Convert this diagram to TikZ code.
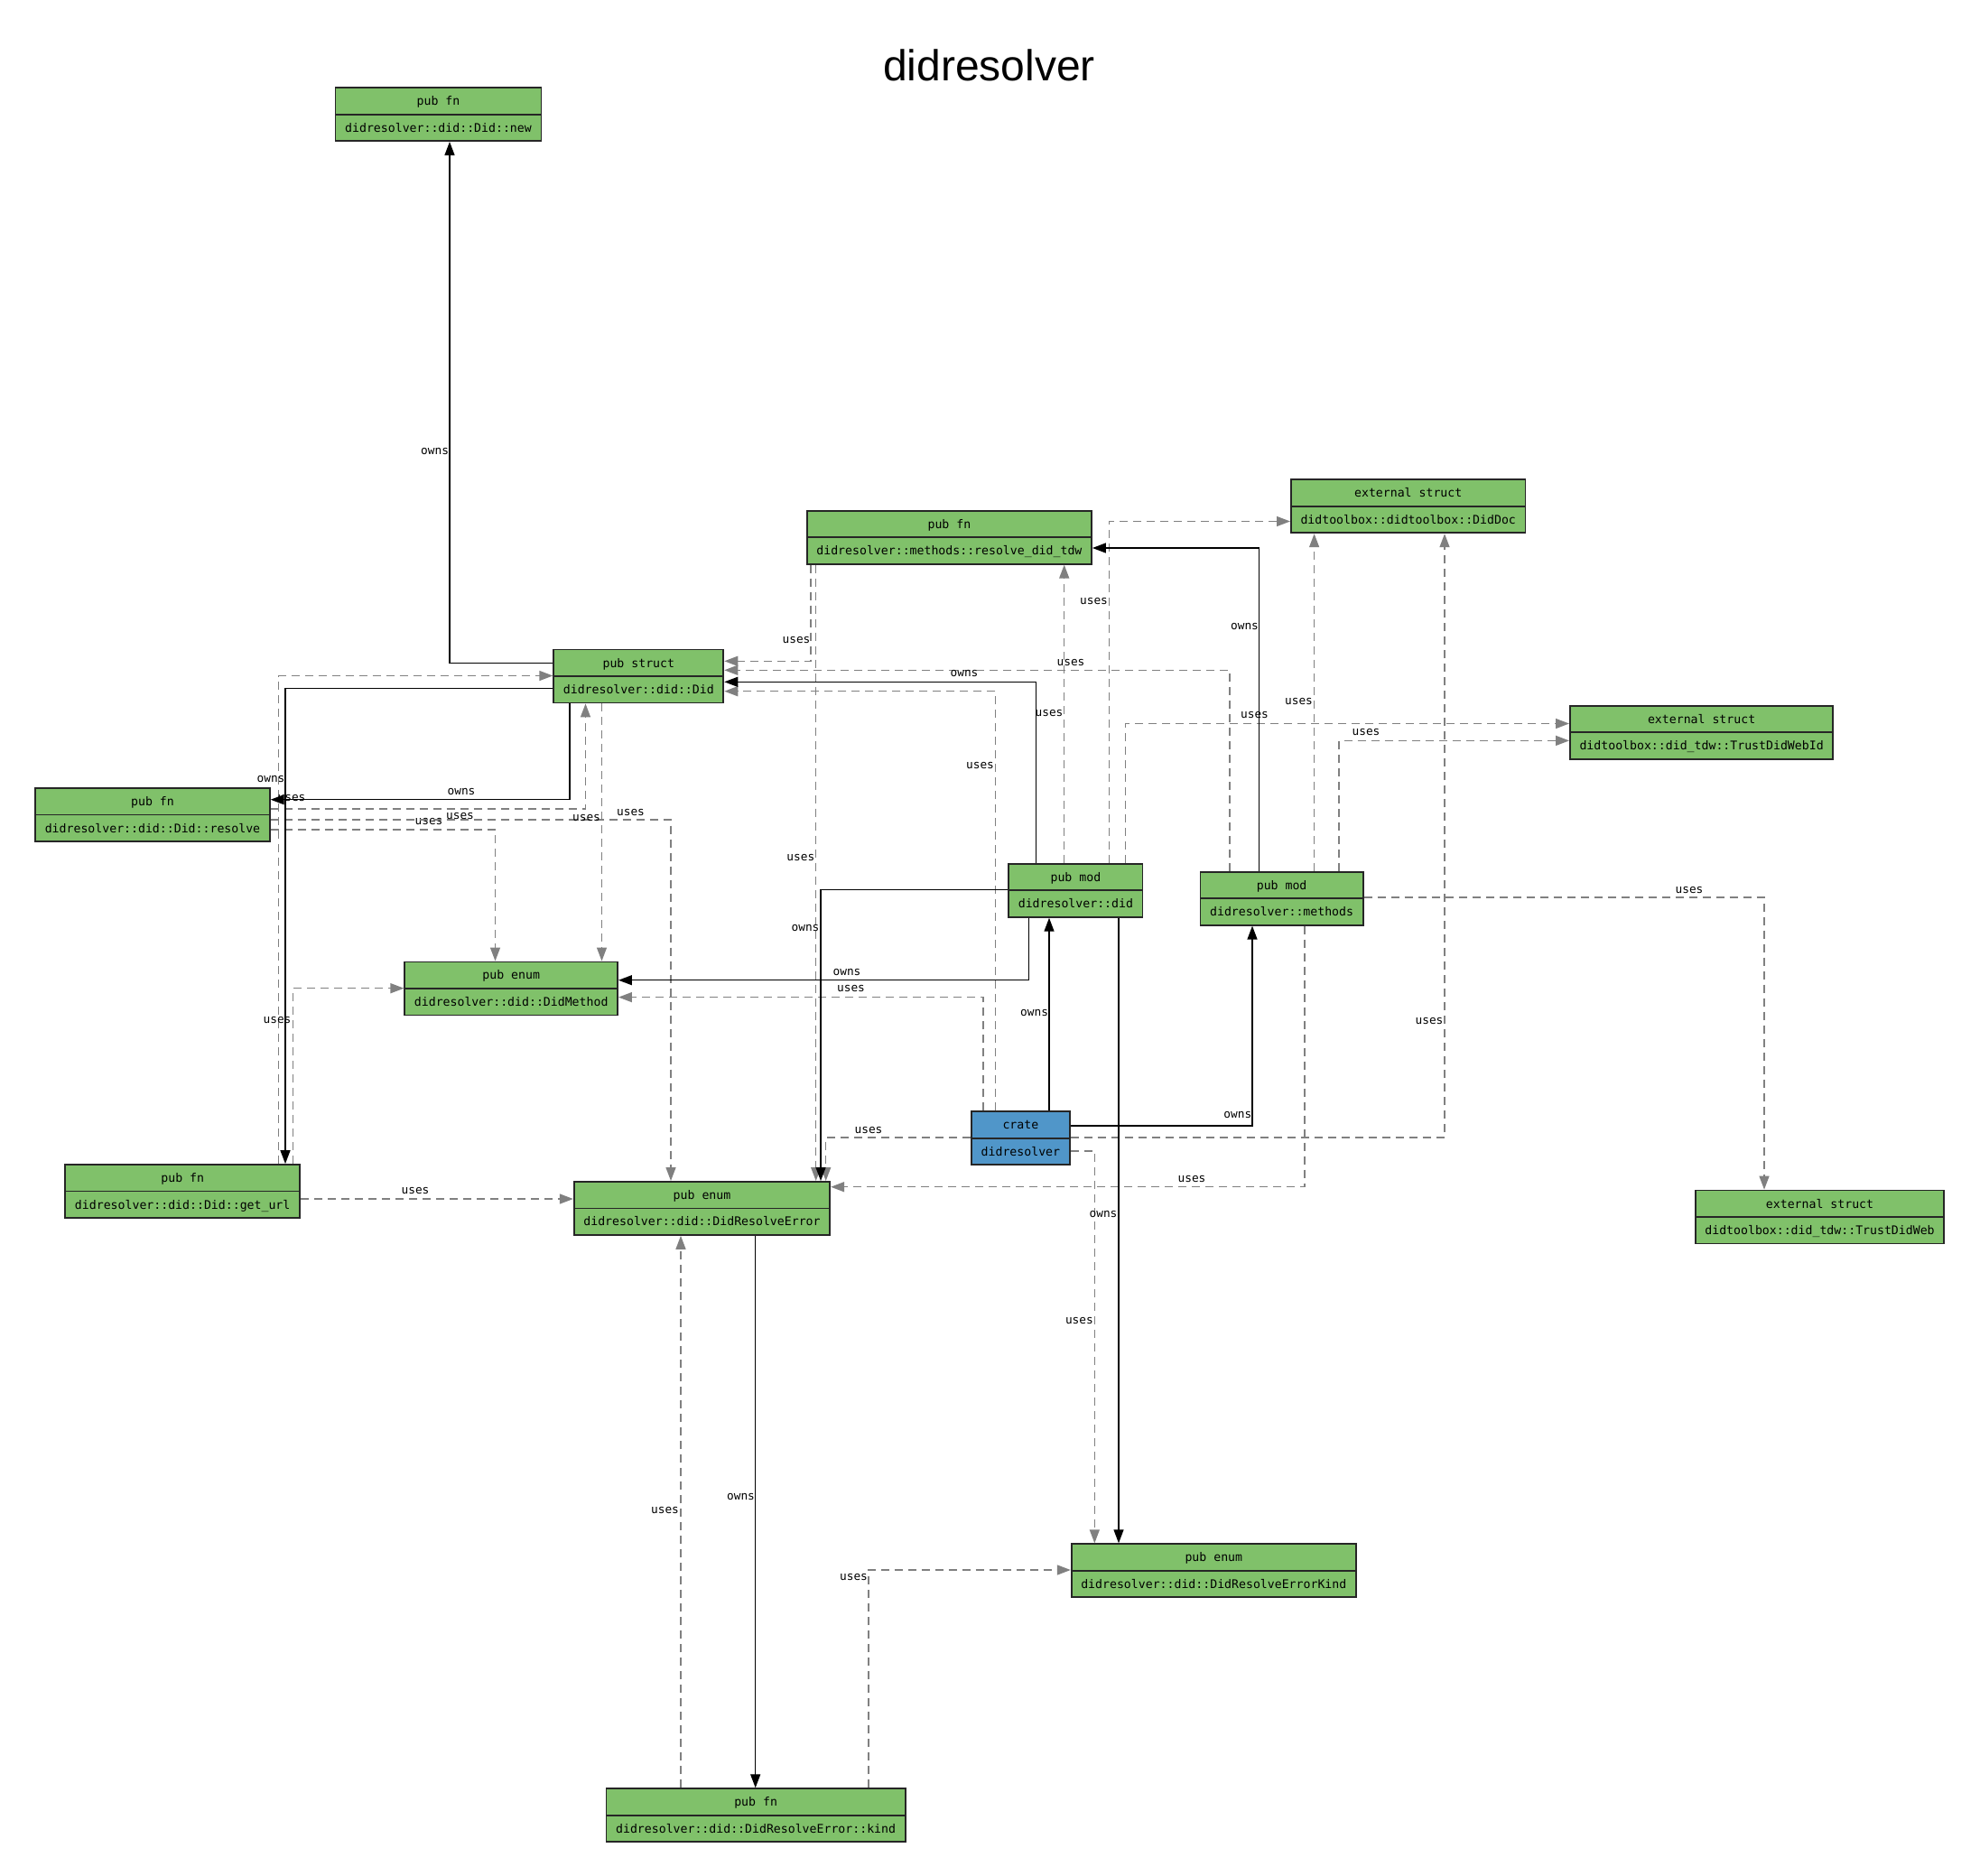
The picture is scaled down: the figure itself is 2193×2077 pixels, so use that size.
\documentclass[tikz,border=0pt]{standalone}
\usepackage{fontspec}
\usepackage{tikz}
\usetikzlibrary{arrows.meta,shapes.multipart}
\newfontfamily\codefont{DejaVu Sans Mono}
\newfontfamily\titlefont{Liberation Sans}
\definecolor{itemgreen}{RGB}{128,193,106}
\definecolor{crateblue}{RGB}{80,150,201}
\definecolor{usesgray}{RGB}{128,128,128}
\newcommand{\rowstrut}{\rule[-4.55pt]{0pt}{13.85pt}}

\begin{document}
\begin{tikzpicture}[x=0.5pt,y=-0.5pt,
  item/.style={rectangle split, rectangle split parts=2, draw=black!85, line width=0.9pt,
    fill=itemgreen, inner xsep=5.3pt, inner ysep=0pt, font=\codefont\fontsize{6.6}{7}\selectfont},
  cratebox/.style={item, fill=crateblue},
  owns/.style={draw=black, line width=0.65pt, -{Triangle[length=7.5pt,width=5.5pt]}},
  uses/.style={draw=usesgray, line width=0.7pt, dash pattern=on 4.5pt off 3pt, -{Triangle[length=7.5pt,width=5.5pt]}},
  lbl/.style={font=\codefont\fontsize{6.4}{7}\selectfont, inner sep=0pt, text=black}]
\fill[white] (0,0) rectangle (2193,2077);
\useasboundingbox (0,0) rectangle (2193,2077);

\node[font=\titlefont\fontsize{24}{28}\selectfont, anchor=base] (title) at (1095.5,89.3) {didresolver};

\node[item] (didnew) at (485.5,126.6) {\rowstrut pub fn\nodepart{two}\rowstrut didresolver::did::Did::new};
\node[item] (tdw) at (1051.4,595.2) {\rowstrut pub fn\nodepart{two}\rowstrut didresolver::methods::resolve\_did\_tdw};
\node[item] (diddoc) at (1559.7,560.8) {\rowstrut external struct\nodepart{two}\rowstrut didtoolbox::didtoolbox::DidDoc};
\node[item] (did) at (707.3,749) {\rowstrut pub struct\nodepart{two}\rowstrut didresolver::did::Did};
\node[item] (webid) at (1884.6,811.3) {\rowstrut external struct\nodepart{two}\rowstrut didtoolbox::did\_tdw::TrustDidWebId};
\node[item] (resolve) at (169,902.5) {\rowstrut pub fn\nodepart{two}\rowstrut didresolver::did::Did::resolve};
\node[item] (didmod) at (1191.4,986.3) {\rowstrut pub mod\nodepart{two}\rowstrut didresolver::did};
\node[item] (methods) at (1419.6,995.2) {\rowstrut pub mod\nodepart{two}\rowstrut didresolver::methods};
\node[item] (didmethod) at (566.2,1094.9) {\rowstrut pub enum\nodepart{two}\rowstrut didresolver::did::DidMethod};
\node[cratebox] (crate) at (1130.4,1260.7) {\rowstrut crate\nodepart{two}\rowstrut didresolver};
\node[item] (geturl) at (202.2,1319.5) {\rowstrut pub fn\nodepart{two}\rowstrut didresolver::did::Did::get\_url};
\node[item] (dre) at (777.5,1338.4) {\rowstrut pub enum\nodepart{two}\rowstrut didresolver::did::DidResolveError};
\node[item] (trustweb) at (2015.5,1348) {\rowstrut external struct\nodepart{two}\rowstrut didtoolbox::did\_tdw::TrustDidWeb};
\node[item] (errkind) at (1344.3,1739.7) {\rowstrut pub enum\nodepart{two}\rowstrut didresolver::did::DidResolveErrorKind};
\node[item] (kindfn) at (837.1,2010.7) {\rowstrut pub fn\nodepart{two}\rowstrut didresolver::did::DidResolveError::kind};

\draw[uses] (tdw.south -| 898,0) |- (did.east |- 0,732.3) node[lbl] at (882,709) {uses};
\draw[uses] (tdw.south -| 903.7,0) -- (dre.north -| 903.7,0) node[lbl] at (886.8,949.5) {uses};
\draw[uses] (resolve.east |- 0,896) -| (did.south -| 648.5,0) node[lbl] at (509.5,904) {uses};
\draw[uses] (resolve.east |- 0,919) -| (didmethod.north -| 548.5,0) node[lbl] at (475,910) {uses};
\draw[uses] (resolve.east |- 0,908) -| (dre.north -| 743,0) node[lbl] at (698.5,900) {uses};
\draw[uses] (did.south -| 666.5,0) -- (didmethod.north -| 666.5,0) node[lbl] at (649.5,906) {uses};
\draw[uses] (geturl.north -| 308.3,0) |- (did.west |- 0,748.5) node[lbl] at (323,884) {uses};
\draw[uses] (geturl.north -| 324.6,0) |- (didmethod.west |- 0,1094.7) node[lbl] at (307,1130) {uses};
\draw[uses] (geturl.east |- 0,1328) -- (dre.west |- 0,1328) node[lbl] at (460,1319) {uses};
\draw[uses] (didmod.north -| 1178.7,0) -- (tdw.south -| 1178.7,0) node[lbl] at (1162,790) {uses};
\draw[uses] (didmod.north -| 1228.7,0) |- (diddoc.west |- 0,577.5) node[lbl] at (1211.5,666) {uses};
\draw[uses] (didmod.north -| 1246.6,0) |- (webid.west |- 0,801.5) node[lbl] at (1389.5,792.3) {uses};
\draw[uses] (methods.north -| 1362,0) |- (did.east |- 0,742.3) node[lbl] at (1186,734) {uses};
\draw[uses] (methods.north -| 1455.6,0) -- (diddoc.south -| 1455.6,0) node[lbl] at (1438.5,776.5) {uses};
\draw[uses] (methods.north -| 1483,0) |- (webid.west |- 0,820.4) node[lbl] at (1513,811.2) {uses};
\draw[uses] (methods.east |- 0,994) -| (trustweb.north -| 1954,0) node[lbl] at (1871,985.7) {uses};
\draw[uses] (methods.south -| 1445,0) |- (dre.east |- 0,1314.7) node[lbl] at (1320,1306) {uses};
\draw[uses] (crate.north -| 1102.7,0) |- (did.east |- 0,765.7) node[lbl] at (1085.5,848) {uses};
\draw[uses] (crate.north -| 1089,0) |- (didmethod.east |- 0,1104.6) node[lbl] at (942.5,1095.4) {uses};
\draw[uses] (crate.west |- 0,1260) -| (dre.north -| 914.7,0) node[lbl] at (962,1252) {uses};
\draw[uses] (crate.east |- 0,1260) -| (diddoc.south -| 1600,0) node[lbl] at (1583,1131) {uses};
\draw[uses] (crate.east |- 0,1275) -| (errkind.north -| 1212.3,0) node[lbl] at (1195.4,1463) {uses};
\draw[uses] (kindfn.north -| 754,0) -- (dre.south -| 754,0) node[lbl] at (736.5,1672.5) {uses};
\draw[uses] (kindfn.north -| 962,0) |- (errkind.west |- 0,1739) node[lbl] at (945.5,1747.4) {uses};

\draw[owns] (did.west |- 0,734.7) -| (didnew.south -| 498,0) node[lbl] at (481.6,500) {owns};
\draw[owns] (did.south -| 631,0) |- (resolve.east |- 0,885.7) node[lbl] at (511,877) {owns};
\draw[owns] (did.west |- 0,762.8) -| (geturl.north -| 316,0) node[lbl] at (300,863) {owns};
\draw[owns] (didmod.north -| 1147.5,0) |- (did.east |- 0,755.3) node[lbl] at (1068,746) {owns};
\draw[owns] (didmod.south -| 1139.5,0) |- (didmethod.east |- 0,1085.7) node[lbl] at (938,1076.5) {owns};
\draw[owns] (didmod.west |- 0,985.7) -| (dre.north -| 909,0) node[lbl] at (892,1027.5) {owns};
\draw[owns] (didmod.south -| 1239,0) -- (errkind.north -| 1239,0) node[lbl] at (1222,1345) {owns};
\draw[owns] (crate.north -| 1162,0) -- (didmod.south -| 1162,0) node[lbl] at (1145.6,1122.4) {owns};
\draw[owns] (crate.east |- 0,1247) -| (methods.south -| 1387,0) node[lbl] at (1370.8,1234.7) {owns};
\draw[owns] (methods.north -| 1394.7,0) |- (tdw.east |- 0,607) node[lbl] at (1378.5,694) {owns};
\draw[owns] (dre.south -| 836.7,0) -- (kindfn.north -| 836.7,0) node[lbl] at (820.5,1657.7) {owns};
\end{tikzpicture}
\end{document}
